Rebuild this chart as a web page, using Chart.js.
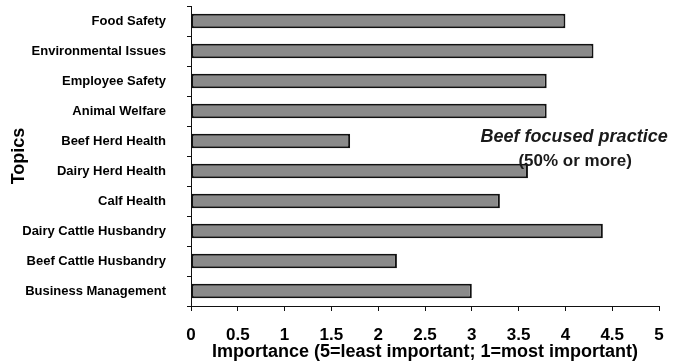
<!DOCTYPE html>
<html>
<head>
<meta charset="utf-8">
<script src="https://cdn.jsdelivr.net/npm/chart.js@4/dist/chart.umd.min.js"></script>
<style>
  html, body { margin: 0; padding: 0; background: #fff; }
  #wrap { width: 690px; height: 363px; }
</style>
</head>
<body>
<div id="wrap"><canvas id="topicsChart"></canvas></div>
<script>
const topics = [
    'Food Safety',
    'Environmental Issues',
    'Employee Safety',
    'Animal Welfare',
    'Beef Herd Health',
    'Dairy Herd Health',
    'Calf Health',
    'Dairy Cattle Husbandry',
    'Beef Cattle Husbandry',
    'Business Management'
];
const importance = [4.0, 4.3, 3.8, 3.8, 1.7, 3.6, 3.3, 4.4, 2.2, 3.0];
const xTicks = [0, 0.5, 1, 1.5, 2, 2.5, 3, 3.5, 4, 4.5, 5];
const noteLines = ['Beef focused practice', '(50% or more)'];

// text note on the right side of the plot
const notePlugin = {
    id: 'note',
    afterDatasetsDraw(chart) {
        const ctx = chart.ctx;
        const x = chart.scales.x.getPixelForValue(4.2);
        const y = chart.scales.y.getPixelForValue(4);
        ctx.save();
        ctx.fillStyle = '#1a1a1a';
        ctx.textAlign = 'center';
        ctx.textBaseline = 'middle';
        ctx.font = 'italic bold 18px "Liberation Sans", Arial, sans-serif';
        ctx.fillText(noteLines[0], x - 10, y - 4);
        ctx.font = 'bold 17px "Liberation Sans", Arial, sans-serif';
        ctx.fillText(noteLines[1], x - 9, y + 20);
        ctx.restore();
    }
};

const ctx = document.getElementById('topicsChart').getContext('2d');

new Chart(ctx, {
    type: 'bar',
    data: {
        labels: topics,
        datasets: [{
            data: importance,
            backgroundColor: '#8a8a8a',
            borderColor: '#111',
            borderWidth: 2,
            borderSkipped: false,
            barPercentage: 0.48,
            categoryPercentage: 1
        }]
    },
    options: {
        indexAxis: 'y',
        responsive: true,
        maintainAspectRatio: false,
        animation: false,
        layout: { padding: { left: 6, top: 6, right: 31, bottom: 0 } },
        plugins: {
            legend: { display: false },
            tooltip: { enabled: false }
        },
        scales: {
            x: {
                min: 0,
                max: 5,
                afterBuildTicks(axis) {
                    axis.ticks = xTicks.map(v => ({ value: v }));
                },
                afterFit(axis) {
                    axis.height = 57;
                    axis.paddingRight = 0;
                    axis.paddingLeft = 0;
                },
                grid: {
                    drawOnChartArea: false,
                    color: '#111',
                    tickLength: 5
                },
                border: { color: '#111', width: 1 },
                ticks: {
                    color: '#000',
                    padding: 14,
                    maxRotation: 0,
                    callback: v => String(v),
                    font: { family: '"Liberation Sans", Arial, sans-serif', size: 17, weight: 'bold' }
                },
                title: {
                    display: true,
                    text: 'Importance (5=least important; 1=most important)',
                    color: '#000',
                    padding: { top: 0, bottom: 0 },
                    font: { family: '"Liberation Sans", Arial, sans-serif', size: 18, weight: 'bold' }
                }
            },
            y: {
                afterFit(axis) {
                    axis.width = 185;
                    axis.paddingTop = 0;
                    axis.paddingBottom = 0;
                },
                grid: {
                    drawOnChartArea: false,
                    offset: true,
                    color: '#111',
                    tickLength: 4
                },
                border: { color: '#111', width: 1 },
                ticks: {
                    color: '#000',
                    padding: 21,
                    font: { family: '"Liberation Sans Narrow", "Liberation Sans", Arial, sans-serif', size: 13, weight: 'bold' }
                },
                title: {
                    display: true,
                    text: 'Topics',
                    color: '#000',
                    padding: { top: 2, bottom: 4 },
                    font: { family: '"Liberation Sans", Arial, sans-serif', size: 18, weight: 'bold' }
                }
            }
        }
    },
    plugins: [notePlugin]
});
</script>
</body>
</html>
